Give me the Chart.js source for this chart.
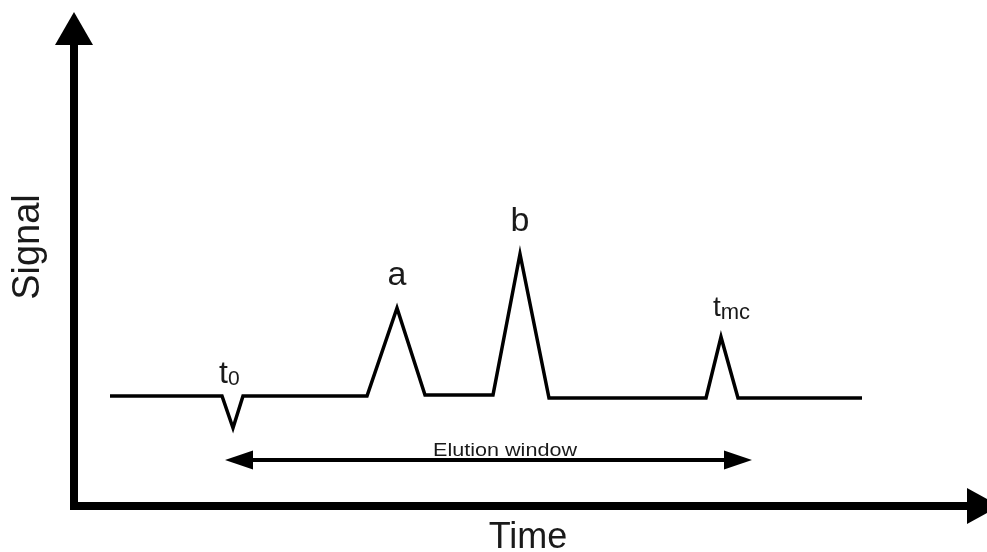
<!DOCTYPE html>
<html>
<head>
<meta charset="utf-8">
<title>Chromatogram</title>
<script src="https://cdn.jsdelivr.net/npm/chart.js@4.4.1/dist/chart.umd.min.js"></script>
<style>
  html, body { margin: 0; padding: 0; background: #ffffff; }
  #wrap { width: 987px; height: 552px; position: relative; }
</style>
</head>
<body>
<div id="wrap"><canvas id="chart"></canvas></div>
<script>
// Schematic chromatogram: retention time vs. detector signal (arbitrary units)
const timePoints   = [3.6, 14.8, 15.9, 16.9, 29.3, 32.3, 35.1, 41.9, 44.6, 47.5, 63.2, 64.7, 66.4, 78.8];
const signalPoints = [11.0, 11.0, 7.8, 11.0, 11.0, 19.8, 11.1, 11.1, 25.2, 10.8, 10.8, 16.9, 10.8, 10.8];

// Marked events: index into the trace, main text, subscript
const markIndex = [2, 5, 8, 11];
const markText  = ['t', 'a', 'b', 't'];
const markSub   = ['0', '', '', 'mc'];

// Elution window span (time), its height on the signal axis, and where its caption sits
const windowStart = 15.1;
const windowEnd   = 67.8;
const windowLevel = 4.6;
const windowLabelAt = 43.1;
const windowLabel = 'Elution window';

const axisTitleX = 'Time';
const axisTitleY = 'Signal';

// Axis ranges
const timeMin = -7.4, timeMax = 91.3;
const signalMin = -4.6, signalMax = 50.6;

const FONT = '"Liberation Sans", Arial, Helvetica, sans-serif';

function arrowHead(ctx, tipX, tipY, dirX, dirY, len, half) {
  const bx = tipX - dirX * len, by = tipY - dirY * len;
  const px = -dirY, py = dirX;
  ctx.beginPath();
  ctx.moveTo(tipX, tipY);
  ctx.lineTo(bx + px * half, by + py * half);
  ctx.lineTo(bx - px * half, by - py * half);
  ctx.closePath();
  ctx.fill();
}

const decorations = {
  id: 'decorations',
  beforeDatasetsDraw(chart) {
    const ctx = chart.ctx;
    const xs = chart.scales.x, ys = chart.scales.y;
    const ox = xs.getPixelForValue(0), oy = ys.getPixelForValue(0);
    const yTop = ys.getPixelForValue(signalMax - 1.2);
    const xEnd = xs.getPixelForValue(timeMax + 1.3);
    ctx.save();
    ctx.fillStyle = '#000';
    ctx.strokeStyle = '#000';
    ctx.lineCap = 'butt';
    // axes
    ctx.lineWidth = 8;
    ctx.beginPath();
    ctx.moveTo(ox, yTop + 30);
    ctx.lineTo(ox, oy);
    ctx.lineTo(xEnd - 30, oy);
    ctx.stroke();
    ctx.fillRect(ox - 4, oy - 4, 8, 8);
    arrowHead(ctx, ox, yTop, 0, -1, 33, 19);
    arrowHead(ctx, xEnd, oy, 1, 0, 33, 18);

    // elution window double arrow
    const wx0 = xs.getPixelForValue(windowStart), wx1 = xs.getPixelForValue(windowEnd);
    const wy = ys.getPixelForValue(windowLevel);
    ctx.lineWidth = 4;
    ctx.beginPath();
    ctx.moveTo(wx0 + 20, wy);
    ctx.lineTo(wx1 - 20, wy);
    ctx.stroke();
    arrowHead(ctx, wx0, wy, -1, 0, 28, 9.5);
    arrowHead(ctx, wx1, wy, 1, 0, 28, 9.5);

    ctx.font = '18px ' + FONT;
    ctx.textBaseline = 'alphabetic';
    ctx.textAlign = 'left';
    const tw = ctx.measureText(windowLabel).width;
    const target = 144;
    const cx = xs.getPixelForValue(windowLabelAt);
    ctx.save();
    ctx.translate(cx - target / 2, wy - 4);
    ctx.scale(target / tw, 1);
    ctx.fillStyle = '#1a1a1a';
    ctx.fillText(windowLabel, 0, 0);
    ctx.restore();

    // axis titles
    ctx.fillStyle = '#1a1a1a';
    ctx.font = '36px ' + FONT;
    ctx.textAlign = 'center';
    ctx.fillText(axisTitleX, 528, 548);
    ctx.save();
    ctx.translate(39, 247);
    ctx.rotate(-Math.PI / 2);
    ctx.font = '38px ' + FONT;
    ctx.fillText(axisTitleY, 0, 0);
    ctx.restore();

    // peak / marker labels
    markIndex.forEach((idx, k) => {
      const px = xs.getPixelForValue(timePoints[idx]);
      const py = ys.getPixelForValue(signalPoints[idx]);
      const main = markText[k], sub = markSub[k];
      if (!sub) {
        ctx.font = '34px ' + FONT;
        ctx.textAlign = 'center';
        ctx.fillText(main, px, py - 23);
      } else if (sub === '0') {
        ctx.textAlign = 'left';
        ctx.font = '32px ' + FONT;
        const w = ctx.measureText(main).width;
        const baseY = py - 45;
        ctx.fillText(main, px - 14, baseY);
        ctx.font = '21px ' + FONT;
        ctx.fillText(sub, px - 14 + w, baseY + 2);
      } else {
        ctx.textAlign = 'left';
        ctx.font = '28px ' + FONT;
        const w = ctx.measureText(main).width;
        const baseY = py - 21;
        ctx.fillText(main, px - 8, baseY);
        ctx.font = '22px ' + FONT;
        ctx.fillText(sub, px - 8 + w, baseY + 3);
      }
    });
    ctx.restore();
  }
};

new Chart(document.getElementById('chart'), {
  type: 'line',
  data: {
    datasets: [{
      data: timePoints.map((t, i) => ({ x: t, y: signalPoints[i] })),
      borderColor: '#000',
      borderWidth: 3.5,
      borderJoinStyle: 'miter',
      borderCapStyle: 'butt',
      tension: 0,
      pointRadius: 0,
      fill: false
    }]
  },
  options: {
    responsive: true,
    maintainAspectRatio: false,
    animation: false,
    layout: { padding: 0 },
    plugins: { legend: { display: false }, tooltip: { enabled: false } },
    scales: {
      x: { type: 'linear', min: timeMin, max: timeMax, display: false },
      y: { type: 'linear', min: signalMin, max: signalMax, display: false }
    }
  },
  plugins: [decorations]
});
</script>
</body>
</html>
